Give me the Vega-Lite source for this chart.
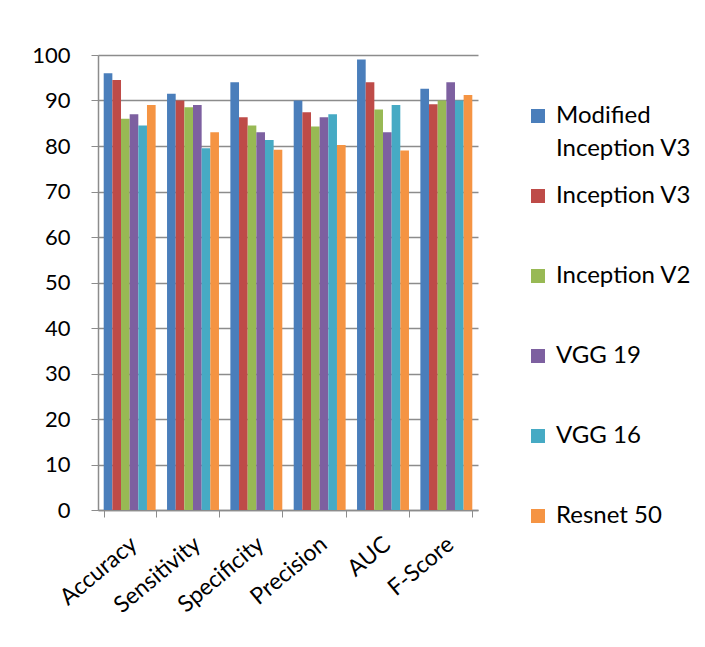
{
  "$schema": "https://vega.github.io/schema/vega-lite/v6.json",
  "width": 380,
  "height": 455,
  "autosize": {"type": "none"},
  "padding": {"left": 98, "top": 55, "right": 227, "bottom": 137},
  "background": "white",
  "data": {
    "values": [
      {"metric": "Accuracy", "model": "Modified Inception V3", "value": 96},
      {"metric": "Accuracy", "model": "Inception V3", "value": 94.5},
      {"metric": "Accuracy", "model": "Inception V2", "value": 86},
      {"metric": "Accuracy", "model": "VGG 19", "value": 87},
      {"metric": "Accuracy", "model": "VGG 16", "value": 84.5},
      {"metric": "Accuracy", "model": "Resnet 50", "value": 89},
      {"metric": "Sensitivity", "model": "Modified Inception V3", "value": 91.5},
      {"metric": "Sensitivity", "model": "Inception V3", "value": 90},
      {"metric": "Sensitivity", "model": "Inception V2", "value": 88.5},
      {"metric": "Sensitivity", "model": "VGG 19", "value": 89},
      {"metric": "Sensitivity", "model": "VGG 16", "value": 79.5},
      {"metric": "Sensitivity", "model": "Resnet 50", "value": 83},
      {"metric": "Specificity", "model": "Modified Inception V3", "value": 94},
      {"metric": "Specificity", "model": "Inception V3", "value": 86.3},
      {"metric": "Specificity", "model": "Inception V2", "value": 84.5},
      {"metric": "Specificity", "model": "VGG 19", "value": 83},
      {"metric": "Specificity", "model": "VGG 16", "value": 81.3},
      {"metric": "Specificity", "model": "Resnet 50", "value": 79.2},
      {"metric": "Precision", "model": "Modified Inception V3", "value": 90},
      {"metric": "Precision", "model": "Inception V3", "value": 87.4},
      {"metric": "Precision", "model": "Inception V2", "value": 84.3},
      {"metric": "Precision", "model": "VGG 19", "value": 86.3},
      {"metric": "Precision", "model": "VGG 16", "value": 87},
      {"metric": "Precision", "model": "Resnet 50", "value": 80.2},
      {"metric": "AUC", "model": "Modified Inception V3", "value": 99},
      {"metric": "AUC", "model": "Inception V3", "value": 94},
      {"metric": "AUC", "model": "Inception V2", "value": 88},
      {"metric": "AUC", "model": "VGG 19", "value": 83},
      {"metric": "AUC", "model": "VGG 16", "value": 89},
      {"metric": "AUC", "model": "Resnet 50", "value": 79},
      {"metric": "F-Score", "model": "Modified Inception V3", "value": 92.6},
      {"metric": "F-Score", "model": "Inception V3", "value": 89.2},
      {"metric": "F-Score", "model": "Inception V2", "value": 90},
      {"metric": "F-Score", "model": "VGG 19", "value": 94},
      {"metric": "F-Score", "model": "VGG 16", "value": 90},
      {"metric": "F-Score", "model": "Resnet 50", "value": 91.2}
    ]
  },
  "mark": {"type": "bar"},
  "encoding": {
    "x": {
      "field": "metric",
      "type": "nominal",
      "sort": ["Accuracy", "Sensitivity", "Specificity", "Precision", "AUC", "F-Score"],
      "scale": {"paddingInner": 0.18, "paddingOuter": 0.09},
      "axis": {
        "title": null,
        "labelAngle": -40,
        "labelAlign": "right",
        "labelBaseline": "middle",
        "labelFontSize": 23,
        "labelFont": "Lato",
        "labelColor": "#000000",
        "labelPadding": 24,
        "labelOffset": 4,
        "tickBand": "extent",
        "tickSize": 7,
        "tickColor": "#8c8c8c",
        "domainColor": "#8c8c8c",
        "domainWidth": 1.5
      }
    },
    "xOffset": {
      "field": "model",
      "type": "nominal",
      "sort": ["Modified Inception V3", "Inception V3", "Inception V2", "VGG 19", "VGG 16", "Resnet 50"]
    },
    "y": {
      "field": "value",
      "type": "quantitative",
      "scale": {"domain": [0, 100], "nice": false},
      "axis": {
        "title": null,
        "values": [0, 10, 20, 30, 40, 50, 60, 70, 80, 90, 100],
        "labelFontSize": 22,
        "labelFont": "Lato",
        "labelColor": "#000000",
        "labelPadding": 21,
        "tickSize": 7,
        "tickColor": "#8c8c8c",
        "domainColor": "#8c8c8c",
        "domainWidth": 1.5,
        "grid": true,
        "gridColor": "#8c8c8c",
        "gridWidth": 1.5
      }
    },
    "color": {
      "field": "model",
      "type": "nominal",
      "sort": ["Modified Inception V3", "Inception V3", "Inception V2", "VGG 19", "VGG 16", "Resnet 50"],
      "scale": {
        "domain": ["Modified Inception V3", "Inception V3", "Inception V2", "VGG 19", "VGG 16", "Resnet 50"],
        "range": ["#4a7ebb", "#be4b48", "#98b954", "#7d60a0", "#46aac4", "#f59443"]
      },
      "legend": {
        "title": null,
        "orient": "none",
        "legendX": 428,
        "legendY": 49,
        "symbolType": "square",
        "symbolSize": 196,
        "symbolStrokeWidth": 0,
        "labelFontSize": 24,
        "labelFont": "Lato",
        "labelColor": "#000000",
        "labelLimit": 220,
        "labelOffset": 6,
        "gridAlign": "all",
        "rowPadding": 23,
        "labelExpr": "datum.label == 'Modified Inception V3' ? ['Modified', 'Inception V3'] : datum.label",
        "encode": {
          "labels": {"update": {"lineHeight": {"value": 33}}}
        }
      }
    }
  },
  "config": {
    "view": {"stroke": null},
    "axis": {"labelFontWeight": "normal"}
  }
}
